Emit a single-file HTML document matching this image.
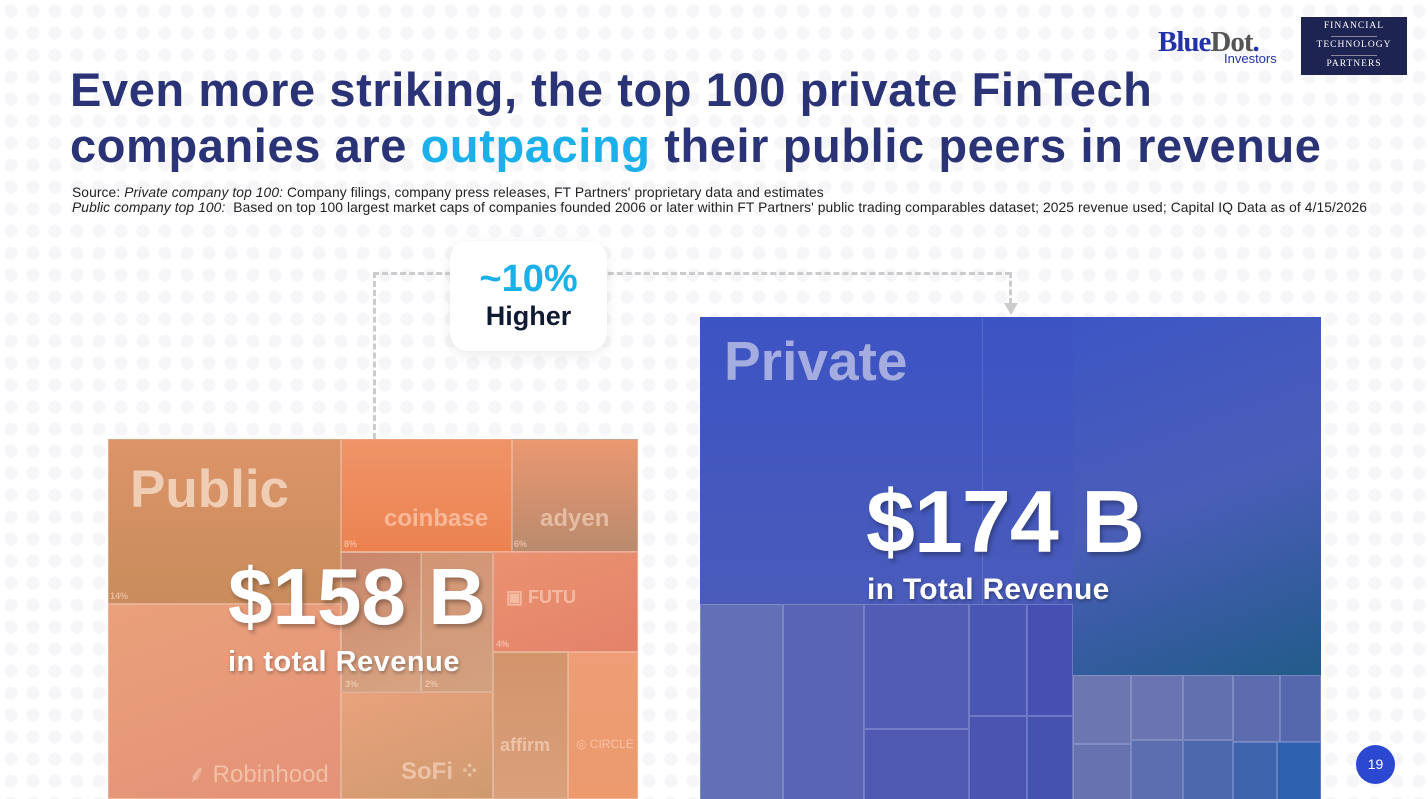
<!DOCTYPE html>
<html><head><meta charset="utf-8"><style>
body{margin:0;width:1428px;height:799px;overflow:hidden;background:#fff;font-family:"Liberation Sans",sans-serif;position:relative;
background-image:radial-gradient(circle,#f6f6f8 6px,transparent 7px);background-size:22px 22px;}
.a{position:absolute}
h1{position:absolute;left:70px;top:62px;margin:0;font-size:47px;line-height:56px;font-weight:900;color:#2b3377;letter-spacing:0.6px;white-space:nowrap}
.src{position:absolute;left:72px;top:185px;font-size:13.8px;line-height:15px;color:#222;letter-spacing:0.1px;white-space:nowrap}
.c{position:absolute;box-sizing:border-box;border:1px solid rgba(255,255,255,0.25)}
.lg{position:absolute;color:rgba(255,225,205,0.55);font-weight:bold}
.pc{position:absolute;font-size:9px;font-weight:bold;color:rgba(255,220,200,0.6)}
.pl{position:absolute;box-sizing:border-box;border:1px solid rgba(180,190,230,0.35)}
</style></head><body>
<div class="a" style="left:1158px;top:26px;font-family:'Liberation Serif',serif;font-size:29px;font-weight:bold;color:#2233aa;letter-spacing:-1px">Blue<span style="color:#555">Dot</span><span style="color:#2233aa">.</span></div>
<div class="a" style="left:1224px;top:51px;font-size:13px;color:#2233aa">Investors</div>
<div class="a" style="left:1301px;top:17px;width:106px;height:58px;background:#1e2452;color:#fff;font-family:'Liberation Serif',serif;font-size:9.5px;letter-spacing:1px;text-align:center;line-height:19px">FINANCIAL<br>TECHNOLOGY<br>PARTNERS
<div class="a" style="left:30px;top:19px;width:46px;height:1px;background:#889"></div><div class="a" style="left:30px;top:38px;width:46px;height:1px;background:#889"></div></div>
<h1>Even more striking, the top 100 private FinTech<br>companies are <span style="color:#1bb0ea">outpacing</span> their public peers in revenue</h1>
<div class="src">Source: <i>Private company top 100:</i> Company filings, company press releases, FT Partners' proprietary data and estimates<br><i>Public company top 100:</i>&nbsp; Based on top 100 largest market caps of companies founded 2006 or later within FT Partners' public trading comparables dataset; 2025 revenue used; Capital IQ Data as of 4/15/2026</div>

<div class="a" style="left:373px;top:272px;width:638px;height:167px;border-top:3px dashed #ccc;border-left:3px dashed #ccc;box-sizing:border-box"></div>
<div class="a" style="left:1009px;top:272px;height:32px;border-left:3px dashed #ccc"></div>
<div class="a" style="left:1004px;top:303px;width:0;height:0;border-left:7px solid transparent;border-right:7px solid transparent;border-top:12px solid #ccc"></div>
<div class="a" style="left:450px;top:241px;width:157px;height:110px;background:#fff;border-radius:18px;box-shadow:0 4px 14px rgba(0,0,0,0.08);text-align:center">
<div style="margin-top:18px;font-size:38px;font-weight:bold;color:#1bb0ea;line-height:40px">~10%</div>
<div style="font-size:27px;font-weight:bold;color:#111a33;line-height:34px">Higher</div></div>

<div class="a" style="left:108px;top:439px;width:530px;height:360px;background:linear-gradient(160deg,#e4936b,#e79a76);overflow:hidden">
<div class="c" style="left:0;top:0;width:233px;height:165px;background:linear-gradient(180deg,#dc9468,#c98c5c)"></div>
<div class="c" style="left:233px;top:0;width:171px;height:113px;background:linear-gradient(180deg,#ef9468,#ec8250)"></div>
<div class="c" style="left:404px;top:0;width:126px;height:113px;background:linear-gradient(180deg,#eb9870,#b98a6e)"></div>
<div class="c" style="left:233px;top:113px;width:80px;height:140px;background:linear-gradient(160deg,#c8856a,#d7a583)"></div>
<div class="c" style="left:313px;top:113px;width:72px;height:140px;background:linear-gradient(160deg,#d39574,#d2a080)"></div>
<div class="c" style="left:385px;top:113px;width:145px;height:100px;background:linear-gradient(160deg,#ea9270,#e4826a)"></div>
<div class="c" style="left:0;top:165px;width:233px;height:195px;background:linear-gradient(160deg,#eaa07a,#e49278)"></div>
<div class="c" style="left:233px;top:253px;width:152px;height:107px;background:linear-gradient(160deg,#e9a27c,#cf9a70)"></div>
<div class="c" style="left:385px;top:213px;width:75px;height:147px;background:linear-gradient(180deg,#d3946c,#d9a07a)"></div>
<div class="c" style="left:460px;top:213px;width:70px;height:147px;background:linear-gradient(180deg,#ee9d76,#ec9a6e)"></div>
<div class="lg" style="left:22px;top:20px;font-size:53px;font-weight:900;color:rgba(245,215,195,0.85)">Public</div>
<div class="lg" style="left:276px;top:66px;font-size:24px">coinbase</div>
<div class="lg" style="left:432px;top:66px;font-size:24px;font-weight:900">adyen</div>
<div class="lg" style="left:398px;top:148px;font-size:18px">▣ FUTU</div>
<div class="lg" style="left:80px;top:318px;font-size:24px;font-weight:normal">⸙ Robinhood</div>
<div class="lg" style="left:293px;top:318px;font-size:24px">SoFi ⁘</div>
<div class="lg" style="left:392px;top:296px;font-size:18px">affirm</div>
<div class="lg" style="left:468px;top:298px;font-size:12px;font-weight:normal">◎ CIRCLE</div>
<div class="pc" style="left:2px;top:152px">14%</div><div class="pc" style="left:236px;top:100px">8%</div><div class="pc" style="left:406px;top:100px">6%</div>
<div class="pc" style="left:237px;top:240px">3%</div><div class="pc" style="left:317px;top:240px">2%</div><div class="pc" style="left:388px;top:200px">4%</div>
<div class="a" style="left:120px;top:112px;font-size:80px;font-weight:900;color:#fff;letter-spacing:0px;text-shadow:2px 3px 4px rgba(0,0,0,0.3)">$158 B</div>
<div class="a" style="left:120px;top:207px;font-size:29px;font-weight:bold;color:#fff;letter-spacing:0.5px;text-shadow:1px 2px 3px rgba(0,0,0,0.3)">in total Revenue</div>
</div>

<div class="a" style="left:700px;top:317px;width:621px;height:482px;background:linear-gradient(180deg,#3c53c3,#5361b4);overflow:hidden">
<div class="a" style="left:373px;top:0;width:248px;height:358px;background:linear-gradient(160deg,#3d56c4 0%,#4a5db8 50%,#225c8a 100%)"></div>
<div class="a" style="left:282px;top:0;width:1px;height:287px;background:rgba(180,190,230,0.2)"></div>
<div class="pl" style="left:0;top:287px;width:83px;height:200px;background:#6270b6"></div>
<div class="pl" style="left:83px;top:287px;width:81px;height:200px;background:#5a64b5"></div>
<div class="pl" style="left:164px;top:287px;width:105px;height:125px;background:#525cb4"></div>
<div class="pl" style="left:164px;top:412px;width:105px;height:75px;background:#4f59b2"></div>
<div class="pl" style="left:269px;top:287px;width:58px;height:112px;background:#4a56b4"></div>
<div class="pl" style="left:327px;top:287px;width:46px;height:112px;background:#4550b2"></div>
<div class="pl" style="left:269px;top:399px;width:58px;height:88px;background:#4a55b2"></div>
<div class="pl" style="left:327px;top:399px;width:46px;height:88px;background:#4652b0"></div>
<div class="pl" style="left:373px;top:358px;width:58px;height:69px;background:#6c77b1"></div>
<div class="pl" style="left:431px;top:358px;width:52px;height:65px;background:#6a74b1"></div>
<div class="pl" style="left:483px;top:358px;width:50px;height:65px;background:#6370b0"></div>
<div class="pl" style="left:533px;top:358px;width:47px;height:67px;background:#5d6cae"></div>
<div class="pl" style="left:580px;top:358px;width:41px;height:67px;background:#5568ae"></div>
<div class="pl" style="left:373px;top:427px;width:58px;height:60px;background:#6673b0"></div>
<div class="pl" style="left:431px;top:423px;width:52px;height:64px;background:#5c6db0"></div>
<div class="pl" style="left:483px;top:423px;width:50px;height:64px;background:#4e68ae"></div>
<div class="pl" style="left:533px;top:425px;width:44px;height:62px;background:#3e64ae"></div>
<div class="pl" style="left:577px;top:425px;width:44px;height:62px;background:#2c62ae"></div>
<div class="a" style="left:24px;top:12px;font-size:55px;font-weight:900;color:#a5acdf">Private</div>
<div class="a" style="left:166px;top:154px;font-size:88px;font-weight:900;color:#fff;letter-spacing:-1px;text-shadow:2px 3px 4px rgba(0,0,0,0.3)">$174 B</div>
<div class="a" style="left:167px;top:256px;font-size:30px;font-weight:bold;color:#fff;letter-spacing:0.3px;text-shadow:1px 2px 3px rgba(0,0,0,0.3)">in Total Revenue</div>
</div>
<div class="a" style="left:1356px;top:745px;width:39px;height:39px;border-radius:50%;background:#2d48d0;color:#fff;font-size:14px;text-align:center;line-height:39px">19</div>
</body></html>
